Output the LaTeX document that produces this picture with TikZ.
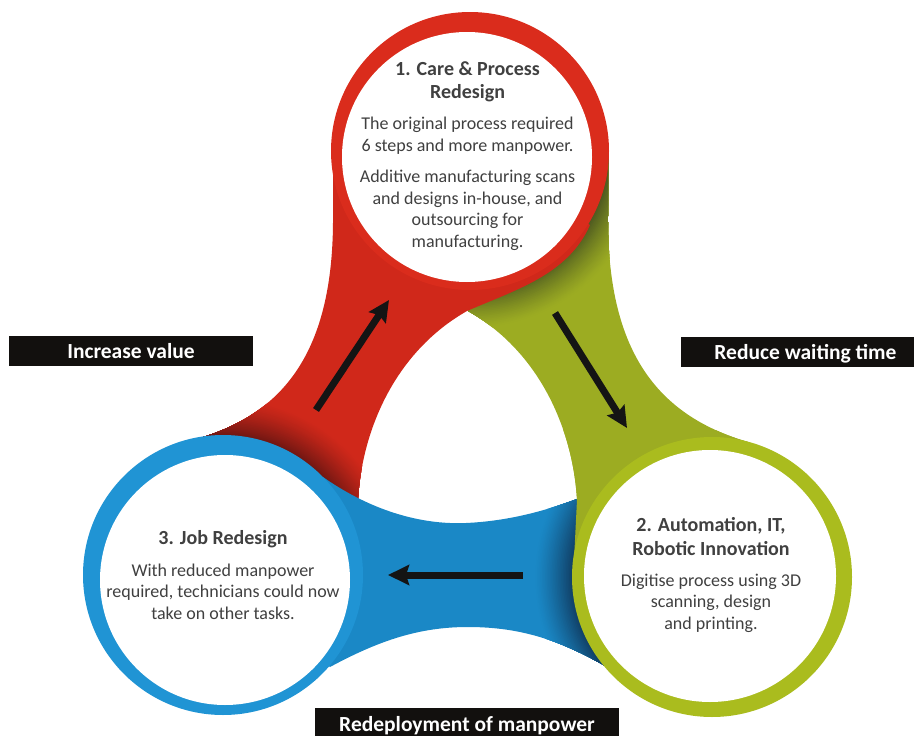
\documentclass[tikz,border=0pt]{standalone}
\usepackage{fontspec}
\setmainfont{Carlito}
\usetikzlibrary{arrows.meta}
\definecolor{redc}{RGB}{218,44,28}
\definecolor{redband}{RGB}{208,40,26}
\definecolor{redsh}{RGB}{110,22,18}
\definecolor{grnc}{RGB}{170,188,30}
\definecolor{grnband}{RGB}{156,172,34}
\definecolor{grnsh}{RGB}{78,90,32}
\definecolor{bluc}{RGB}{32,148,212}
\definecolor{bluband}{RGB}{26,136,198}
\definecolor{blush}{RGB}{16,62,100}
\definecolor{txt}{RGB}{64,64,64}
\definecolor{lblbg}{RGB}{18,16,14}
\def\grnpath{(480,200) -- (470,151) -- (608,151) -- (608,215) .. controls (607,350) and (656,415) .. (748,442) -- (712,577) -- (574,560) -- (577,500) .. controls (573,430) and (540,352) .. (468,311) -- cycle}
\def\redpath{(470,151) -- (333,151) -- (333,215) .. controls (334,350) and (285,415) .. (193,440) -- (250,560) -- (360,530) -- (358,500) .. controls (362,430) and (395,352) .. (467,311) .. controls (515,290) and (568,275) .. (590,225) -- cycle}
\def\blupath{(223,575) -- (323,477) .. controls (370,510) and (420,525) .. (466,523) .. controls (510,521) and (550,510) .. (590,494) -- (650,580) -- (607,667) .. controls (560,640) and (520,627) .. (468,627) .. controls (420,627) and (380,640) .. (330,667) -- cycle}
\tikzset{
  ttl/.style={anchor=base, text=txt, font=\fontsize{20}{24}\selectfont\bfseries, inner sep=0pt},
  bdy/.style={anchor=base, text=txt, font=\fontsize{18}{22}\selectfont, inner sep=0pt},
  lbl/.style={fill=lblbg, text=white, font=\fontsize{21.5}{24}\selectfont\bfseries, inner sep=0pt, text height=15pt, text depth=0pt},
  arr/.style={line width=7pt, -{Stealth[length=21pt,width=20pt,inset=3pt]}, black!92}
}
% #1 centre, #2 shadow colour, #3 band colour
\newcommand\castshadow[3]{%
  \foreach \i in {0,...,24}{%
    \pgfmathsetmacro\rr{178-\i*1.6}%
    \pgfmathsetmacro\pc{100*(\i/24)^1.3}%
    \fill[#2!\pc!#3] #1 circle[radius=\rr pt];
  }%
}
\begin{document}
\begin{tikzpicture}[x=1pt,y=-1pt]
\useasboundingbox (0,0) rectangle (914,736);
% green band (under red)
\fill[grnband] \grnpath;
\begin{scope}
  \clip \grnpath;
  \castshadow{(470,151)}{grnsh}{grnband}
\end{scope}
% red band (over green, under blue)
\fill[redband] \redpath;
\begin{scope}
  \clip \redpath;
  \castshadow{(223,575)}{redsh}{redband}
\end{scope}
% blue band (over red, under green)
\fill[bluband] \blupath;
\begin{scope}
  \clip \blupath;
  \castshadow{(712,577)}{blush}{bluband}
\end{scope}
% green band again, over the blue band
\begin{scope}
  \clip (500,430) rectangle (800,730);
  \fill[grnband] \grnpath;
\end{scope}
% circles
\fill[redc] (470,151) circle[radius=139pt];
\fill[white] (467,157) circle[radius=125pt];
\fill[bluc] (223,575) circle[radius=140pt];
\fill[white] (225,580) circle[radius=125pt];
\fill[grnc] (712,577) circle[radius=140pt];
\fill[white] (710,576) circle[radius=126pt];
% arrows
\coordinate (ra1) at (316,410); \coordinate (ra2) at (389,300);
\coordinate (ga1) at (555,313); \coordinate (ga2) at (627,428);
\coordinate (ba1) at (523,575); \coordinate (ba2) at (388,575);
\draw[arr] (ra1) -- (ra2);
\draw[arr] (ga1) -- (ga2);
\draw[arr] (ba1) -- (ba2);
% texts in circles
\node[ttl] (t1a) at (467.5,75) {1. Care \& Process};
\node[ttl] (t1b) at (467.5,98) {Redesign};
\node[bdy] (b1a) at (467.5,129) {The original process required};
\node[bdy] (b1b) at (467.5,151.5) {6 steps and more manpower.};
\node[bdy] (b1c) at (467.5,182.5) {Additive manufacturing scans};
\node[bdy] (b1d) at (467.5,204) {and designs in-house, and};
\node[bdy] (b1e) at (467.5,225.5) {outsourcing for};
\node[bdy] (b1f) at (467.5,247) {manufacturing.};
\node[ttl] (t2a) at (711,531) {2. Automation, IT,};
\node[ttl] (t2b) at (711,555) {Robotic Innovation};
\node[bdy] (b2a) at (711,586) {Digitise process using 3D};
\node[bdy] (b2b) at (711,607.5) {scanning, design};
\node[bdy] (b2c) at (711,629) {and printing.};
\node[ttl] (t3a) at (223,544) {3. Job Redesign};
\node[bdy] (b3a) at (223,576) {With reduced manpower};
\node[bdy] (b3b) at (223,597.5) {required, technicians could now};
\node[bdy] (b3c) at (223,619) {take on other tasks.};
% label boxes
\node[lbl, minimum width=244pt, minimum height=30pt] (inc) at (131,351) {Increase value};
\node[lbl, minimum width=249pt, minimum height=30pt] (red) at (805.5,352) {Reduce waiting time};
\node[lbl, minimum width=304pt, minimum height=32pt] (dep) at (467,724) {Redeployment of manpower};
\end{tikzpicture}
\end{document}
